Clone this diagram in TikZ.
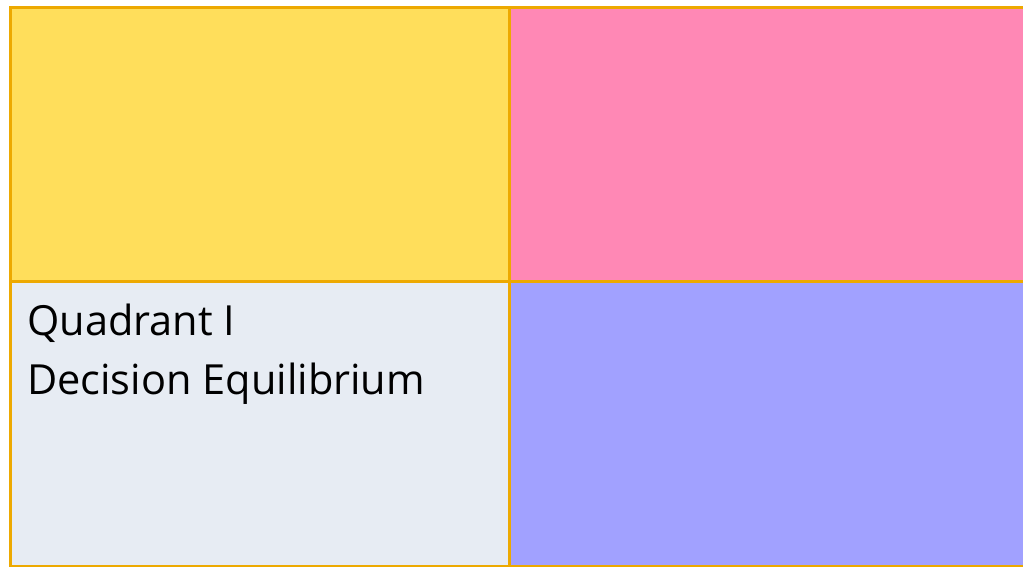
\documentclass[tikz,border=0pt]{standalone}
\usepackage{fontspec}
\setmainfont{Open Sans}
\usetikzlibrary{positioning}

\definecolor{quadedge}{HTML}{EDA900}
\definecolor{quadyellow}{HTML}{FFDE5B}
\definecolor{quadpink}{HTML}{FF88B5}
\definecolor{quadgrey}{HTML}{E7ECF3}
\definecolor{quadblue}{HTML}{A1A1FF}

\begin{document}
\begin{tikzpicture}[x=1pt, y=-1pt,
    quad/.style={rectangle, draw=quadedge, line width=3pt, anchor=north west,
      minimum width=499pt, minimum height=274pt, inner sep=0pt}]
      \useasboundingbox (0,0) rectangle (1023,566);

      \node[quad, fill=quadyellow] (q2) at (8.5,5.5) {};
      \node[quad, fill=quadpink, minimum width=540pt] (q1) at (507.5,5.5) {};
      \node[quad, fill=quadgrey, minimum height=285pt] (q3) at (8.5,279.5) {};
      \node[quad, fill=quadblue, minimum width=540pt, minimum height=285pt] (q4) at (507.5,279.5) {};

      \node[anchor=north west, align=left, inner sep=0pt, font=\fontsize{41.5}{59}\selectfont]
        (lbl) at (27,304) {Quadrant I\\Decision Equilibrium};
    \end{tikzpicture}
\end{document}
